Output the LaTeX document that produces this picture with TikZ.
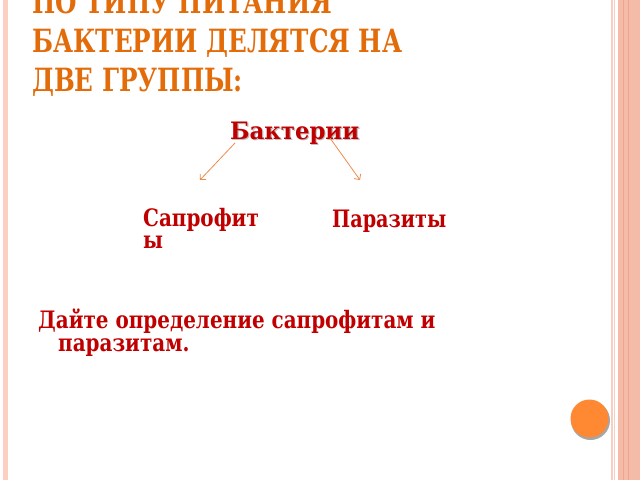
\documentclass[tikz,border=0pt]{standalone}
\usepackage{fontspec}
\setmainfont{DejaVu Serif}
\newfontfamily\titlefont[FakeStretch=0.77]{DejaVu Serif}
\newfontfamily\bodyfont[FakeStretch=0.83]{DejaVu Serif}
\newfontfamily\headfont[FakeStretch=0.95]{DejaVu Serif}
\newfontfamily\parfont[FakeStretch=0.8]{DejaVu Serif}
\usetikzlibrary{arrows.meta}
\definecolor{titleor}{HTML}{E36C0A}
\definecolor{darkred}{HTML}{C00000}
\definecolor{arrowor}{HTML}{F08A4B}
\definecolor{bandpink}{HTML}{F4BBA8}
\definecolor{bandline}{HTML}{EFA58C}
\definecolor{leftpink}{HTML}{FBD0C0}
\definecolor{dotor}{HTML}{FF8833}
\tikzset{
  titletxt/.style={anchor=base west, inner sep=0pt, text=titleor, font=\titlefont\bfseries\fontsize{32}{36}\selectfont},
  labeltxt/.style={anchor=base west, inner sep=0pt, text=darkred, font=\bodyfont\bfseries\fontsize{24}{26}\selectfont},
  headtxt/.style={anchor=base west, inner sep=0pt, text=darkred, font=\headfont\bfseries\fontsize{24}{26}\selectfont},
  conn/.style={draw=arrowor, line width=0.8pt, -{Straight Barb[length=4pt,width=8pt]}}
}
\begin{document}
\begin{tikzpicture}[x=1pt,y=-1pt]
\useasboundingbox (0,0) rectangle (640,480);
\fill[white] (0,0) rectangle (640,480);
% borders
\fill[leftpink] (3,0) rectangle (7.5,480);
\fill[bandpink!70] (611,0) rectangle (612.5,480);
\fill[bandpink!70] (613.5,0) rectangle (615,480);
\fill[bandpink] (618,0) rectangle (640,480);
\fill[bandline] (622.5,0) rectangle (624,480);
\fill[bandline] (627.5,0) rectangle (629,480);
% title
\node[titletxt] (t1) at (32,13.5) {ПО ТИПУ ПИТАНИЯ};
\node[titletxt] (t2) at (32,52.5) {БАКТЕРИИ ДЕЛЯТСЯ НА};
\node[titletxt] (t3) at (32,91) {ДВЕ ГРУППЫ:};
% diagram
\node[headtxt, text=black!25] (bsh) at (231.2,140.7) {Бактерии};
\node[headtxt] (b) at (230,139.5) {Бактерии};
\node[labeltxt] (s1) at (143,226.5) {Сапрофит};
\node[labeltxt] (s2) at (143,248.3) {ы};
\node[labeltxt, font=\parfont\bfseries\fontsize{24}{26}\selectfont] (p) at (332,227.5) {Паразиты};
\coordinate (a1s) at (235,143);
\coordinate (a1e) at (200,180);
\coordinate (a2s) at (330,138);
\coordinate (a2e) at (360,180);
\draw[conn] (a1s) -- (a1e);
\draw[conn] (a2s) -- (a2e);
% question
\node[labeltxt] (q1) at (38,328.3) {Дайте определение сапрофитам и};
\node[labeltxt] (q2) at (58,351.5) {паразитам.};
% dot
\fill[black!35] (590.5,420.5) circle (19.5);
\node[circle, fill=dotor, minimum size=38pt, inner sep=0pt] (dot) at (589.5,418.5) {};
\end{tikzpicture}
\end{document}
